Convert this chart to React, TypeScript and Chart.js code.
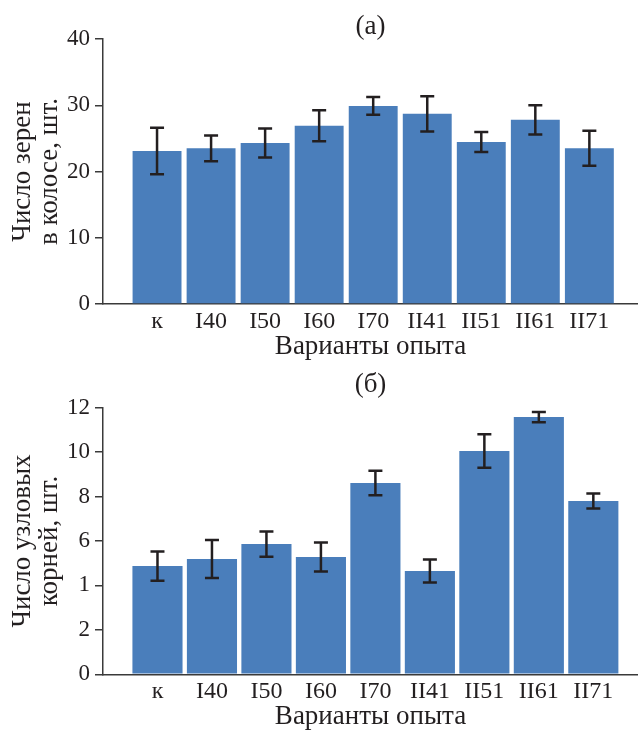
import React, { useEffect, useRef } from "react";
import { Chart, registerables } from "chart.js";

Chart.register(...registerables);

const categories = ["к", "I40", "I50", "I60", "I70", "II41", "II51", "II61", "II71"];

const grainMeans = [23.1, 23.5, 24.3, 26.9, 29.9, 28.7, 24.45, 27.8, 23.5];
const grainErrors = [3.5, 1.95, 2.2, 2.35, 1.35, 2.65, 1.5, 2.2, 2.65];
const grainTickLabels = ["0", "10", "20", "30", "40"];

const rootMeans = [4.87, 5.19, 5.86, 5.28, 8.61, 4.65, 10.05, 11.58, 7.8];
const rootErrors = [0.66, 0.86, 0.57, 0.65, 0.55, 0.52, 0.75, 0.23, 0.34];
const rootTickLabels = ["0", "2", "1", "6", "8", "10", "12"];

const FONT = "'Liberation Serif', 'Times New Roman', serif";
const TEXT = "#231f20";
const BAR = "#4a7ebb";
const AXIS = "#3a3a3a";

type PanelCfg = {
  title: string;
  yTitle: string[];
  means: number[];
  errors: number[];
  yMax: number;
  yStep: number;
  yLabels: string[];
  titlePad: { top: number; bottom: number };
  xHeight: number;
  xTitlePadBottom: number;
  barPct: number;
  xMax: number;
};

const errorBarPlugin = {
  id: "errorBars",
  afterDatasetsDraw(chart: any, _args: any, opts: any) {
    const { ctx } = chart;
    const xs = chart.scales.x;
    const ys = chart.scales.y;
    const means: number[] = opts.means;
    const errs: number[] = opts.errors;
    ctx.save();
    ctx.strokeStyle = TEXT;
    ctx.lineWidth = 2.5;
    means.forEach((m, i) => {
      const x = xs.getPixelForValue(i + 1);
      const yT = ys.getPixelForValue(m + errs[i]);
      const yB = ys.getPixelForValue(m - errs[i]);
      ctx.beginPath();
      ctx.moveTo(x, yT);
      ctx.lineTo(x, yB);
      ctx.moveTo(x - 7, yT);
      ctx.lineTo(x + 7, yT);
      ctx.moveTo(x - 7, yB);
      ctx.lineTo(x + 7, yB);
      ctx.stroke();
    });
    ctx.restore();
  },
};

function Panel({ cfg }: { cfg: PanelCfg }) {
  const ref = useRef<HTMLCanvasElement | null>(null);
  useEffect(() => {
    if (!ref.current) return;
    const chart = new Chart(ref.current, {
      type: "bar",
      data: {
        datasets: [
          {
            data: cfg.means.map((v, i) => ({ x: i + 1, y: v })),
            backgroundColor: BAR,
            borderWidth: 0,
            barPercentage: cfg.barPct,
            categoryPercentage: 1,
          },
        ],
      },
      plugins: [errorBarPlugin],
      options: {
        animation: false,
        responsive: false,
        layout: { padding: 0 },
        plugins: {
          legend: { display: false },
          tooltip: { enabled: false },
          title: {
            display: true,
            text: cfg.title,
            fullSize: false,
            color: TEXT,
            font: { family: FONT, size: 27, weight: "normal", lineHeight: 1 },
            padding: cfg.titlePad,
          },
          errorBars: { means: cfg.means, errors: cfg.errors },
        } as any,
        scales: {
          x: {
            type: "linear",
            offset: false,
            min: 0,
            max: cfg.xMax,
            grid: { display: false, drawTicks: false, offset: false },
            border: { display: true, color: AXIS, width: 1.5 },
            afterBuildTicks: (scale: any) => {
              scale.ticks = categories.map((_, i) => ({ value: i + 1 }));
            },
            afterFit: (scale: any) => {
              scale.height = cfg.xHeight;
            },
            ticks: {
              autoSkip: false,
              maxRotation: 0,
              padding: 3,
              color: TEXT,
              font: { family: FONT, size: 24 },
              callback: (v: any) => categories[Number(v) - 1] ?? "",
            },
            title: {
              display: true,
              text: "Варианты опыта",
              color: TEXT,
              font: { family: FONT, size: 27, lineHeight: 1 },
              padding: { top: 0, bottom: cfg.xTitlePadBottom },
            },
          },
          y: {
            min: 0,
            max: cfg.yMax,
            grid: {
              display: true,
              drawOnChartArea: false,
              drawTicks: true,
              tickLength: 8,
              color: AXIS,
              lineWidth: 1.5,
            },
            border: { display: true, color: AXIS, width: 1.5 },
            afterFit: (scale: any) => {
              scale.width = 103;
            },
            ticks: {
              stepSize: cfg.yStep,
              padding: 5,
              color: TEXT,
              font: { family: FONT, size: 23 },
              callback: (_v: any, i: number) => cfg.yLabels[i],
            },
            title: {
              display: true,
              text: cfg.yTitle,
              color: TEXT,
              font: { family: FONT, size: 27, lineHeight: 1 },
              padding: { top: 9.5, bottom: 0 },
            },
          },
        },
      } as any,
    });
    return () => chart.destroy();
  }, [cfg]);
  return <canvas ref={ref} width={638} height={365} style={{ display: "block" }} />;
}

const panelA: PanelCfg = {
  title: "(a)",
  yTitle: ["Число зерен", "в колосе, шт."],
  means: grainMeans,
  errors: grainErrors,
  yMax: 40,
  yStep: 10,
  yLabels: grainTickLabels,
  titlePad: { top: 13.5, bottom: -1.5 },
  xHeight: 61,
  xTitlePadBottom: 5,
  barPct: 0.905,
  xMax: 9.9,
};

const panelB: PanelCfg = {
  title: "(б)",
  yTitle: ["Число узловых", "корней, шт."],
  means: rootMeans,
  errors: rootErrors,
  yMax: 12,
  yStep: 2,
  yLabels: rootTickLabels,
  titlePad: { top: 6.5, bottom: 9.2 },
  xHeight: 55.7,
  xTitlePadBottom: 0,
  barPct: 0.92,
  xMax: 9.82,
};

export default function App() {
  return (
    <div style={{ position: "absolute", left: 0, top: 0, width: 638, height: 730, background: "#fff" }}>
      <Panel cfg={panelA} />
      <Panel cfg={panelB} />
    </div>
  );
}
